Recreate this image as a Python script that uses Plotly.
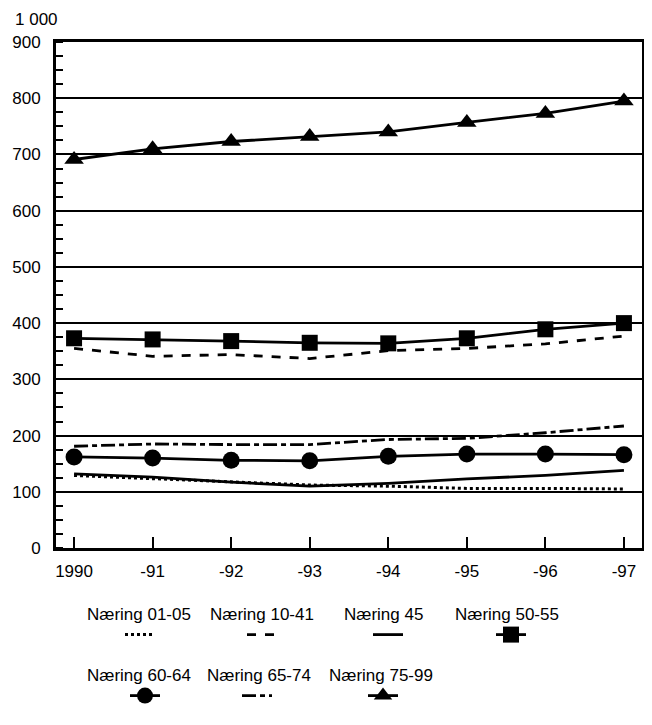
import plotly.graph_objects as go

years = ["1990", "-91", "-92", "-93", "-94", "-95", "-96", "-97"]
x_idx = list(range(len(years)))

naering_01_05 = [129, 123, 117, 112, 110, 106, 106, 105]
naering_10_41 = [355, 341, 344, 337, 351, 355, 363, 377]
naering_45 = [132, 126, 117, 110, 115, 123, 129, 138]
naering_50_55 = [373, 371, 368, 365, 364, 373, 389, 400]
naering_60_64 = [162, 160, 156, 155, 163, 167, 167, 166]
naering_65_74 = [181, 185, 184, 184, 193, 195, 205, 217]
naering_75_99 = [691, 710, 723, 732, 740, 757, 773, 795]

y_ticks = [0, 100, 200, 300, 400, 500, 600, 700, 800, 900]
names = ["Næring 01-05", "Næring 10-41", "Næring 45", "Næring 50-55",
         "Næring 60-64", "Næring 65-74", "Næring 75-99"]

FONT = "Liberation Sans, Arial, sans-serif"
W, H = 652, 725

styles = [
    (dict(dash="dot", width=3), None, 0),
    (dict(dash="dash", width=2.8), None, 0),
    (dict(dash="solid", width=2.8), None, 0),
    (dict(dash="solid", width=2.8), "square", 16),
    (dict(dash="solid", width=2.8), "circle", 17),
    (dict(dash="14px,4px,5px,4px", width=2.8), None, 0),
    (dict(dash="solid", width=2.8), "triangle-up", 17),
]
values = [naering_01_05, naering_10_41, naering_45, naering_50_55,
          naering_60_64, naering_65_74, naering_75_99]

# legend placement (figure pixels of the legend's top-left) and symbol indent
legend_pos = [(77, 590, 35), (200, 590, 34), (334, 590, 26), (445, 590, 38),
              (77, 651, 40), (197, 651, 32), (319, 651, 36)]

fig = go.Figure()
layout_legends = {}
for i, (name, vals, (line, sym, msize)) in enumerate(zip(names, values, styles)):
    lkey = "legend" if i == 0 else f"legend{i+1}"
    kw = dict(color="black", **line)
    common = dict(x=x_idx, y=vals, name=name, line=kw, legend=lkey, showlegend=True)
    if sym:
        fig.add_trace(go.Scatter(mode="lines+markers",
                                 marker=dict(symbol=sym, size=msize, color="black"), **common))
    else:
        fig.add_trace(go.Scatter(mode="lines", **common))
    px, py, indent = legend_pos[i]
    layout_legends[lkey] = dict(
        xref="container", yref="container",
        x=px / W, y=1 - py / H, xanchor="left", yanchor="top",
        bgcolor="rgba(0,0,0,0)", borderwidth=0,
        title=dict(text=name, side="top", font=dict(size=17, family=FONT, color="black")),
        font=dict(size=1, color="rgba(0,0,0,0)"),
        indentation=indent, itemwidth=30,
    )

L, T = 48, 34
fig.update_layout(
    width=W, height=H,
    margin=dict(l=L, r=18, t=T, b=185, autoexpand=False),
    paper_bgcolor="white", plot_bgcolor="white",
    font=dict(family=FONT, size=17, color="black"),
    showlegend=True,
    annotations=[dict(text="1 000", x=(5 - L) / 586, xref="paper", xanchor="left",
                      y=1.0, yref="paper", yanchor="middle", yshift=23,
                      showarrow=False, font=dict(size=17, family=FONT))],
    **layout_legends,
)

fig.update_xaxes(
    range=[-0.23, 7.23], tickvals=x_idx, ticktext=years,
    showgrid=False, zeroline=False,
    showline=True, linecolor="black", linewidth=3, mirror=True,
    ticks="inside", ticklen=11, tickwidth=1.5, tickcolor="black",
    ticklabelstandoff=6,
)
fig.update_yaxes(
    range=[0, 900], tickvals=y_ticks, ticktext=[str(v) for v in y_ticks],
    showgrid=True, gridcolor="black", gridwidth=1.6, zeroline=False,
    showline=True, linecolor="black", linewidth=3, mirror=True,
    ticks="", ticklabelstandoff=9,
    minor=dict(dtick=25, ticks="inside", ticklen=7, tickwidth=1.5, tickcolor="black", showgrid=False),
)

fig.write_html("out.html")
